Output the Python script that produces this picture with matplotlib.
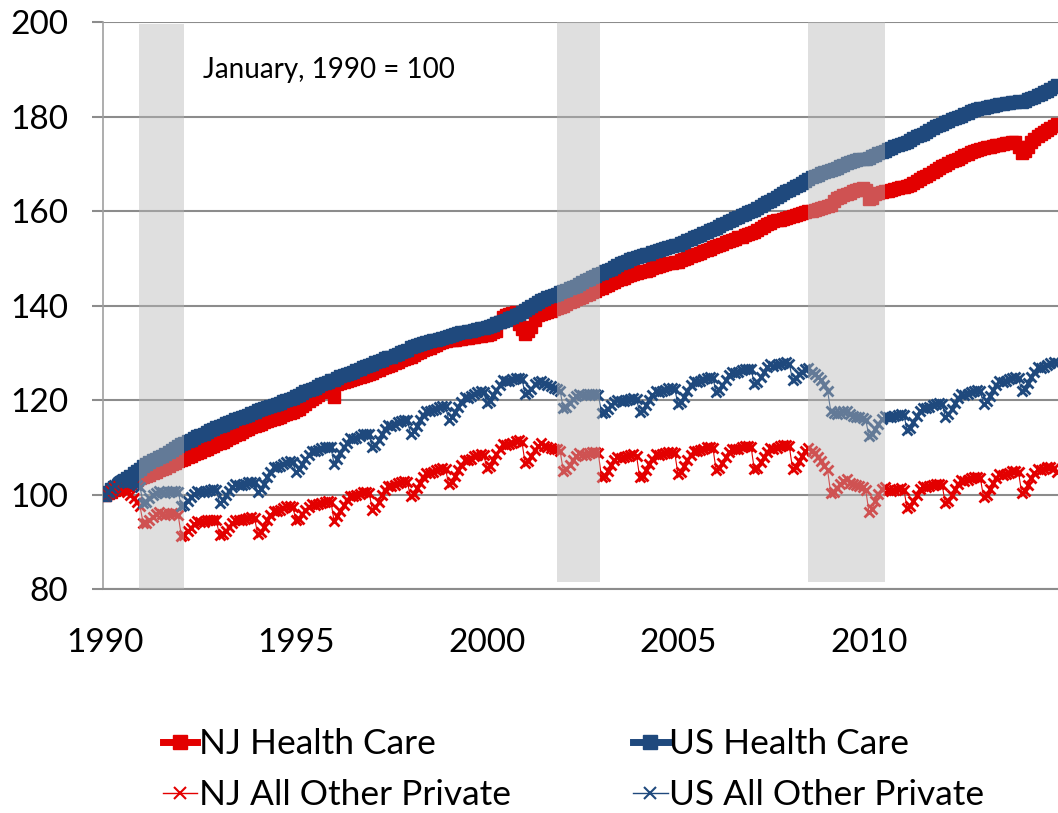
import numpy as np
import matplotlib
matplotlib.use("Agg")
import matplotlib.pyplot as plt
from matplotlib.patches import Rectangle
from matplotlib.lines import Line2D

# ---------------- data (monthly index, January 1990 = 100) ----------------
start_year = 1990

nj_health = [
    100.0, 100.3, 100.6, 100.9, 101.2, 101.5, 101.8, 102.1, 102.5, 102.8, 103.1, 103.4,
    103.6, 103.9, 104.2, 104.5, 104.8, 105.1, 105.4, 105.7, 106.0, 106.4, 106.7, 107.0,
    107.3, 107.6, 107.9, 108.2, 108.5, 108.8, 109.1, 109.4, 109.7, 110.0, 110.3, 110.6,
    110.9, 111.2, 111.5, 111.9, 112.2, 112.6, 112.9, 113.3, 113.6, 113.9, 114.2, 114.5,
    114.8, 115.0, 115.3, 115.5, 115.8, 116.0, 116.2, 116.5, 116.8, 117.0, 117.3, 117.5,
    117.8, 118.2, 118.7, 119.2, 119.7, 120.2, 120.7, 121.1, 121.6, 122.0, 122.5, 122.6,
    120.6, 123.3, 123.6, 123.8, 124.0, 124.2, 124.4, 124.6, 124.9, 125.1, 125.3, 125.5,
    125.8, 126.1, 126.4, 126.7, 127.0, 127.3, 127.5, 127.8, 128.1, 128.4, 128.7, 128.9,
    129.2, 129.6, 129.9, 130.2, 130.5, 130.8, 131.1, 131.4, 131.7, 132.0, 132.2, 132.4,
    132.6, 132.7, 132.8, 132.9, 133.0, 133.1, 133.2, 133.3, 133.4, 133.5, 133.6, 133.7,
    133.8, 134.0, 134.3, 134.6, 136.5, 137.5, 138.0, 138.2, 138.4, 138.6, 136.0, 135.0,
    134.0, 134.5, 135.5, 137.0, 138.0, 138.3, 138.5, 138.7, 138.9, 139.2, 139.5, 139.7,
    140.0, 140.3, 140.7, 141.0, 141.3, 141.6, 141.9, 142.2, 142.5, 142.8, 143.1, 143.4,
    143.8, 144.1, 144.4, 144.7, 145.0, 145.3, 145.6, 145.9, 146.2, 146.4, 146.6, 146.8,
    147.0, 147.2, 147.4, 147.6, 147.9, 148.1, 148.3, 148.5, 148.7, 148.9, 149.0, 149.2,
    149.3, 149.6, 149.8, 150.1, 150.4, 150.6, 150.9, 151.2, 151.5, 151.8, 152.0, 152.3,
    152.5, 152.8, 153.1, 153.4, 153.6, 153.9, 154.1, 154.4, 154.6, 154.9, 155.1, 155.4,
    155.6, 156.0, 156.4, 156.8, 157.2, 157.5, 157.8, 158.0, 158.2, 158.4, 158.6, 158.8,
    158.9, 159.1, 159.3, 159.5, 159.7, 159.9, 160.1, 160.3, 160.5, 160.7, 160.9, 161.1,
    161.2, 162.2, 162.8, 163.0, 163.3, 163.6, 163.9, 164.2, 164.4, 164.6, 164.8, 164.5,
    162.5, 162.8, 163.5, 163.8, 164.0, 164.2, 164.3, 164.5, 164.7, 164.9, 165.0, 165.1,
    165.2, 165.5, 165.9, 166.3, 166.7, 167.1, 167.5, 167.9, 168.3, 168.7, 169.1, 169.5,
    169.8, 170.1, 170.5, 170.8, 171.1, 171.5, 171.8, 172.1, 172.5, 172.8, 173.0, 173.2,
    173.4, 173.5, 173.6, 173.8, 173.9, 174.0, 174.2, 174.3, 174.4, 174.5, 174.6, 173.5,
    172.3, 172.6, 173.5, 174.5, 175.3, 175.9, 176.4, 176.8, 177.2, 177.6, 178.0, 178.5,
]

us_health = [
    100.0, 100.6, 101.1, 101.5, 102.0, 102.6, 103.0, 103.4, 103.9, 104.5, 105.0, 105.5,
    106.0, 106.4, 106.8, 107.2, 107.5, 107.9, 108.2, 108.6, 109.0, 109.4, 109.8, 110.2,
    110.6, 110.9, 111.3, 111.6, 111.9, 112.3, 112.5, 112.8, 113.2, 113.6, 113.9, 114.2,
    114.5, 114.8, 115.1, 115.4, 115.6, 115.9, 116.1, 116.3, 116.6, 116.9, 117.2, 117.5,
    117.8, 118.0, 118.3, 118.5, 118.8, 119.0, 119.2, 119.4, 119.7, 120.0, 120.3, 120.5,
    120.8, 121.1, 121.4, 121.8, 122.1, 122.4, 122.6, 122.9, 123.3, 123.6, 123.9, 124.2,
    124.3, 124.7, 125.0, 125.3, 125.6, 125.8, 126.0, 126.3, 126.6, 126.9, 127.2, 127.5,
    127.7, 128.0, 128.2, 128.5, 128.8, 129.0, 129.2, 129.5, 129.8, 130.1, 130.3, 130.6,
    131.2, 131.4, 131.7, 131.9, 132.1, 132.3, 132.4, 132.6, 132.8, 133.0, 133.2, 133.4,
    133.6, 133.8, 134.0, 134.1, 134.3, 134.4, 134.5, 134.7, 134.9, 135.0, 135.2, 135.3,
    135.4, 135.6, 135.9, 136.2, 136.5, 136.7, 137.0, 137.3, 137.6, 137.9, 138.3, 138.6,
    139.0, 139.4, 139.9, 140.4, 140.8, 141.1, 141.4, 141.7, 142.0, 142.3, 142.5, 142.8,
    143.0, 143.3, 143.6, 143.9, 144.2, 144.6, 144.9, 145.3, 145.7, 146.0, 146.3, 146.6,
    146.9, 147.2, 147.5, 147.8, 148.2, 148.6, 148.9, 149.2, 149.5, 149.8, 150.0, 150.2,
    150.4, 150.6, 150.8, 151.0, 151.3, 151.5, 151.7, 151.9, 152.1, 152.3, 152.5, 152.7,
    152.9, 153.2, 153.5, 153.8, 154.1, 154.4, 154.7, 155.0, 155.3, 155.6, 155.9, 156.2,
    156.4, 156.8, 157.2, 157.5, 157.8, 158.2, 158.5, 158.8, 159.1, 159.4, 159.7, 160.0,
    160.3, 160.6, 161.0, 161.4, 161.8, 162.2, 162.6, 163.0, 163.4, 163.8, 164.2, 164.5,
    164.8, 165.2, 165.6, 166.0, 166.4, 166.8, 167.1, 167.4, 167.7, 168.0, 168.3, 168.5,
    168.7, 168.9, 169.2, 169.5, 169.8, 170.1, 170.3, 170.5, 170.7, 170.9, 171.0, 171.1,
    171.3, 171.6, 171.9, 172.2, 172.5, 172.8, 173.1, 173.4, 173.7, 174.0, 174.2, 174.4,
    174.6, 175.0, 175.4, 175.8, 176.1, 176.4, 176.8, 177.1, 177.5, 177.9, 178.2, 178.5,
    178.8, 179.1, 179.4, 179.7, 179.9, 180.2, 180.5, 180.8, 181.1, 181.3, 181.5, 181.7,
    181.9, 182.0, 182.2, 182.3, 182.5, 182.6, 182.7, 182.8, 182.9, 183.0, 183.1, 183.2,
    183.1, 183.3, 183.6, 183.9, 184.2, 184.5, 184.8, 185.2, 185.5, 185.8, 186.2, 186.6,
]

nj_other = [
    100.0, 100.4, 101.0, 101.6, 101.8, 101.6, 101.0, 100.6, 100.0, 99.2, 98.4, 97.6,
    94.0, 94.0, 94.5, 95.2, 95.8, 96.2, 95.8, 95.6, 95.8, 96.0, 96.0, 95.7,
    91.3, 91.5, 92.2, 93.0, 93.8, 94.4, 94.2, 94.2, 94.5, 94.7, 94.7, 94.5,
    91.4, 91.6, 92.3, 93.1, 93.9, 94.6, 94.5, 94.6, 94.9, 95.1, 95.2, 95.0,
    91.6, 92.0, 93.2, 94.5, 95.6, 96.6, 96.6, 96.8, 97.2, 97.5, 97.6, 97.4,
    94.6, 94.9, 95.8, 96.7, 97.4, 98.0, 97.8, 97.9, 98.3, 98.5, 98.6, 98.4,
    94.4, 95.4, 96.6, 97.8, 98.8, 99.6, 99.6, 99.8, 100.2, 100.5, 100.6, 100.4,
    96.8, 97.3, 98.5, 99.8, 100.9, 101.8, 101.8, 102.0, 102.4, 102.7, 102.8, 102.6,
    99.6, 100.1, 101.3, 102.5, 103.6, 104.6, 104.5, 104.7, 105.1, 105.4, 105.6, 105.4,
    102.2, 102.7, 103.9, 105.2, 106.3, 107.3, 107.3, 107.6, 108.1, 108.4, 108.6, 108.4,
    105.6, 106.0, 107.3, 108.6, 109.7, 110.6, 110.4, 110.6, 111.0, 111.3, 111.5, 111.2,
    106.6, 107.0, 108.2, 109.4, 110.3, 110.9, 110.3, 110.0, 109.8, 109.7, 109.6, 109.2,
    105.0, 105.3, 106.3, 107.3, 108.1, 108.7, 108.4, 108.4, 108.7, 108.9, 109.0, 108.7,
    103.6, 103.9, 105.0, 106.2, 107.2, 108.0, 107.8, 107.9, 108.2, 108.4, 108.5, 108.2,
    103.6, 104.0, 105.2, 106.5, 107.6, 108.5, 108.4, 108.5, 108.8, 109.0, 109.1, 108.8,
    104.4, 104.8, 106.0, 107.3, 108.4, 109.3, 109.2, 109.4, 109.7, 110.0, 110.1, 109.8,
    105.2, 105.6, 106.7, 107.9, 108.9, 109.7, 109.6, 109.7, 110.0, 110.2, 110.3, 110.0,
    105.3, 105.7, 106.8, 108.0, 109.0, 109.8, 109.7, 109.9, 110.2, 110.4, 110.5, 110.2,
    105.5, 105.9, 107.0, 108.2, 109.2, 109.8, 109.2, 108.7, 108.0, 107.1, 106.1, 105.2,
    100.3, 100.6, 101.4, 102.2, 102.8, 103.2, 102.5, 102.2, 102.0, 101.8, 101.5, 101.0,
    96.3, 97.0, 98.6, 100.2, 101.2, 101.5, 101.0, 100.8, 101.0, 101.2, 101.3, 101.0,
    97.1, 97.5, 98.7, 100.0, 101.1, 101.9, 101.6, 101.7, 102.0, 102.2, 102.3, 102.0,
    98.2, 98.6, 99.8, 101.1, 102.2, 103.0, 102.8, 103.0, 103.4, 103.7, 103.8, 103.5,
    99.5, 99.9, 101.1, 102.4, 103.5, 104.3, 104.1, 104.3, 104.6, 104.9, 105.0, 104.7,
    100.3, 100.8, 102.0, 103.4, 104.5, 105.4, 105.2, 105.4, 105.8, 105.9, 105.6, 104.8,
]

us_other = [
    100.0, 100.6, 101.4, 102.0, 102.6, 103.0, 102.6, 102.5, 102.6, 102.4, 102.0, 101.6,
    98.3, 98.5, 99.2, 99.8, 100.3, 100.7, 100.5, 100.4, 100.6, 100.7, 100.7, 100.6,
    97.5, 97.8, 98.6, 99.5, 100.2, 100.8, 100.6, 100.5, 100.8, 101.0, 101.1, 101.0,
    98.3, 98.8, 99.8, 100.8, 101.6, 102.3, 102.0, 102.0, 102.3, 102.6, 102.7, 102.6,
    100.6, 101.2, 102.3, 103.6, 104.8, 105.8, 105.8, 106.0, 106.4, 106.8, 107.0, 106.9,
    104.8, 105.3, 106.4, 107.5, 108.4, 109.3, 109.2, 109.4, 109.8, 110.0, 110.1, 110.0,
    106.4, 107.6, 108.8, 110.0, 111.0, 112.0, 111.8, 112.0, 112.4, 112.7, 112.9, 112.8,
    110.0, 110.5, 111.6, 112.8, 113.8, 114.7, 114.6, 114.8, 115.3, 115.6, 115.8, 115.7,
    112.9, 113.4, 114.5, 115.7, 116.8, 117.7, 117.6, 117.8, 118.2, 118.6, 118.8, 118.7,
    115.8, 116.3, 117.4, 118.6, 119.6, 120.6, 120.5, 120.8, 121.3, 121.6, 121.8, 121.7,
    119.3, 119.8, 121.0, 122.2, 123.2, 124.2, 124.0, 124.0, 124.4, 124.6, 124.7, 124.5,
    121.3, 121.6, 122.4, 123.3, 123.8, 124.0, 123.5, 123.2, 122.9, 122.6, 122.3, 121.9,
    118.3, 118.5, 119.3, 120.2, 120.9, 121.3, 121.0, 121.0, 121.2, 121.3, 121.3, 121.1,
    117.3, 117.5, 118.1, 118.9, 119.6, 120.0, 119.7, 119.7, 120.0, 120.3, 120.4, 120.2,
    117.4, 117.9, 118.9, 120.0, 121.0, 121.8, 121.7, 121.9, 122.2, 122.5, 122.6, 122.4,
    119.1, 119.6, 120.7, 122.0, 123.1, 124.0, 123.8, 124.0, 124.4, 124.6, 124.8, 124.7,
    121.6, 122.1, 123.2, 124.3, 125.2, 126.0, 125.7, 125.9, 126.3, 126.5, 126.6, 126.5,
    123.4, 123.8, 124.9, 126.0, 126.9, 127.6, 127.3, 127.4, 127.7, 127.9, 128.0, 127.7,
    124.3, 124.6, 125.4, 126.0, 126.5, 126.7, 126.0, 125.6, 124.9, 124.2, 123.1, 122.0,
    117.7, 117.2, 117.0, 117.3, 117.6, 117.6, 117.0, 116.7, 116.5, 116.4, 116.2, 115.8,
    112.4, 112.9, 113.8, 115.0, 116.0, 116.6, 116.5, 116.5, 116.7, 116.9, 117.0, 116.8,
    113.6, 114.1, 115.3, 116.6, 117.6, 118.4, 118.3, 118.5, 118.9, 119.2, 119.4, 119.2,
    116.5, 117.1, 118.2, 119.4, 120.4, 121.2, 121.0, 121.2, 121.6, 121.9, 122.1, 121.9,
    119.1, 119.7, 120.9, 122.1, 123.1, 124.0, 123.8, 124.0, 124.4, 124.7, 124.9, 124.7,
    121.8, 122.3, 123.5, 124.9, 126.0, 127.0, 126.8, 127.0, 127.4, 127.8, 128.0, 127.8,
]

# shaded periods: (start, end) in years, and vertical extent
recession_start = [1990.89, 2001.83, 2008.40]
recession_end = [1992.07, 2002.96, 2010.42]
recession_bottom = [80.0, 81.5, 81.5]
recession_top = [199.6, 200.0, 200.0]

series_labels = ["NJ Health Care", "US Health Care", "NJ All Other Private", "US All Other Private"]
year_ticks = [1990, 1995, 2000, 2005, 2010]
value_ticks = [80, 100, 120, 140, 160, 180, 200]
note_text = "January, 1990 = 100"

# ---------------- style ----------------
RED = "#e30000"
BLUE = "#1f497d"
GRID = "#8c8c8c"
SHADE = (184 / 255, 184 / 255, 184 / 255)

plt.rcParams["font.family"] = ["Lato", "DejaVu Sans"]

W, H = 1058, 813
fig = plt.figure(figsize=(W / 100, H / 100), dpi=100)
ax = fig.add_axes([103 / W, 1 - 589 / H, 955 / W, 567 / H])

x = start_year + np.arange(len(nj_health)) / 12.0

ax.plot(x, nj_health, color=RED, lw=3, marker="s", ms=8, mec=RED, mfc=RED, zorder=3)
ax.plot(x, us_health, color=BLUE, lw=3, marker="s", ms=8, mec=BLUE, mfc=BLUE, zorder=3.1)
ax.plot(x, nj_other, color=RED, lw=0.8, marker="x", ms=7.5, mew=2, zorder=3.2)
ax.plot(x, us_other, color=BLUE, lw=0.8, marker="x", ms=7.5, mew=2, zorder=3.3)

for a, b, lo, hi in zip(recession_start, recession_end, recession_bottom, recession_top):
    ax.add_patch(Rectangle((a, lo), b - a, hi - lo, facecolor=SHADE, alpha=0.45,
                           lw=0, zorder=4))

ax.set_xlim(1989.95, 2014.95)
ax.set_ylim(80, 200)
ax.set_yticks(value_ticks)
ax.set_xticks(year_ticks)
ax.set_xticklabels([str(t) for t in year_ticks])
ax.grid(axis="y", color=GRID, lw=1.5, zorder=0)
ax.set_axisbelow(True)

for s in ["top", "right"]:
    ax.spines[s].set_visible(False)
ax.spines["left"].set_color("#a0a0a0")
ax.spines["left"].set_linewidth(1.2)
ax.spines["bottom"].set_color(GRID)
ax.spines["bottom"].set_linewidth(1.5)

ax.tick_params(axis="y", length=8, width=1.5, color=GRID, pad=17, labelsize=24)
ax.tick_params(axis="x", length=0, pad=28, labelsize=24)

ax.text(0.105, 0.915, note_text, transform=ax.transAxes, fontsize=20,
        va="center", ha="left")

handles = [
    Line2D([], [], color=RED, lw=5, marker="s", ms=10, mec=RED, mfc=RED),
    Line2D([], [], color=RED, lw=1, marker="x", ms=8, mew=1.5),
    Line2D([], [], color=BLUE, lw=5, marker="s", ms=10, mec=BLUE, mfc=BLUE),
    Line2D([], [], color=BLUE, lw=1, marker="x", ms=8, mew=1.5),
]
labels = [series_labels[0], series_labels[2], series_labels[1], series_labels[3]]
fig.legend(handles, labels, loc="upper left", bbox_to_anchor=(163 / W, 1 - 728 / H),
           ncol=2, frameon=False, fontsize=25.5, handlelength=0.97, handletextpad=0.05,
           columnspacing=3.45, labelspacing=0.55, borderpad=0, borderaxespad=0)

fig.savefig("out.png", dpi=100)
